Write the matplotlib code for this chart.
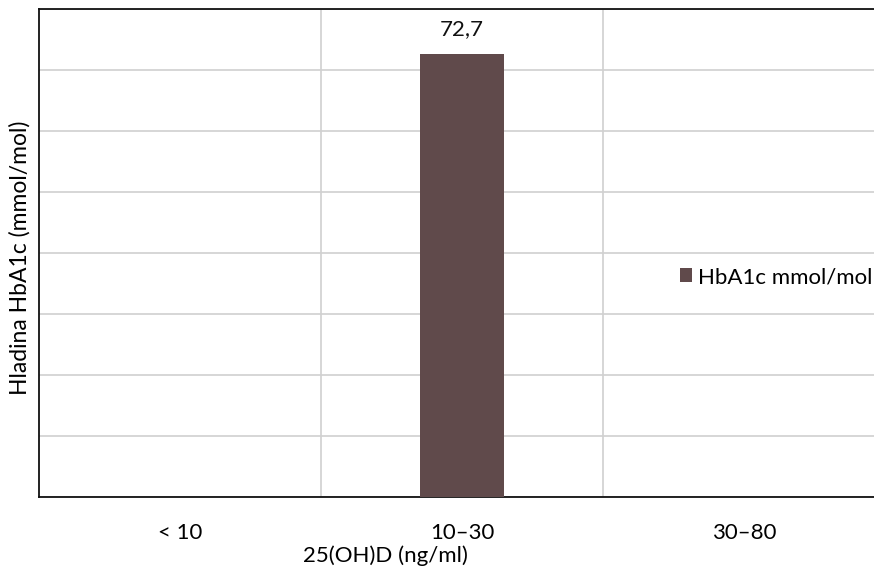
import matplotlib
matplotlib.use("Agg")
import matplotlib.pyplot as plt
import numpy as np

categories = ["< 10", "10–30", "30–80"]
values = [np.nan, 72.7, np.nan]
value_labels = ["", "72,7", ""]
series_name = "HbA1c mmol/mol"
ylabel = "Hladina HbA1c (mmol/mol)"
xlabel = "25(OH)D (ng/ml)"

plt.rcParams['font.family'] = ['Lato', 'DejaVu Sans']

fig = plt.figure(figsize=(8.74, 5.72), dpi=100)
W, H = 874, 572
ax_l, ax_r, ax_t, ax_b = 39, 885, 9, 497
ax = fig.add_axes([ax_l / W, (H - ax_b) / H, (ax_r - ax_l) / W, (ax_b - ax_t) / H])

color = "#604a4b"
x = np.arange(len(categories))
ax.bar(x, values, width=0.30, color=color, label=series_name, zorder=3)
for xi, v, lab in zip(x, values, value_labels):
    if lab:
        ax.text(xi, v + 2.4, lab, ha="center", va="bottom", fontsize=16, color="#111111")

ax.set_xlim(-0.5, 2.5)
ax.set_ylim(0, 80)
ax.set_yticks(np.arange(0, 81, 10))
ax.set_yticklabels([])
ax.tick_params(axis="y", length=0)
ax.set_xticks(x)
ax.set_xticklabels(categories, fontsize=16)
ax.tick_params(axis="x", length=0, pad=19)
ax.set_xticks([0.5, 1.5], minor=True)
ax.tick_params(axis="x", which="minor", length=0)
ax.grid(axis="y", which="major", color="#d0d0d0", linewidth=1.2, zorder=0)
ax.grid(axis="x", which="minor", color="#d0d0d0", linewidth=1.2, zorder=0)
ax.grid(axis="x", which="major", visible=False)

for s in ["left", "bottom", "top"]:
    ax.spines[s].set_color("#111111")
    ax.spines[s].set_linewidth(1.3)
ax.spines["right"].set_visible(False)

fig.text(20 / W, 1 - 258 / H, ylabel, rotation=90, ha="center", va="center", fontsize=16.5)
fig.text(385 / W, 1 - 556 / H, xlabel, ha="center", va="center", fontsize=16)

ax.legend(loc="center left", bbox_to_anchor=((680 - ax_l) / (ax_r - ax_l), (ax_b - 277) / (ax_b - ax_t)),
          frameon=False, fontsize=16, handlelength=0.55, handleheight=0.55, handletextpad=0.25,
          borderaxespad=0, borderpad=0)

fig.savefig("out.png", dpi=100)
